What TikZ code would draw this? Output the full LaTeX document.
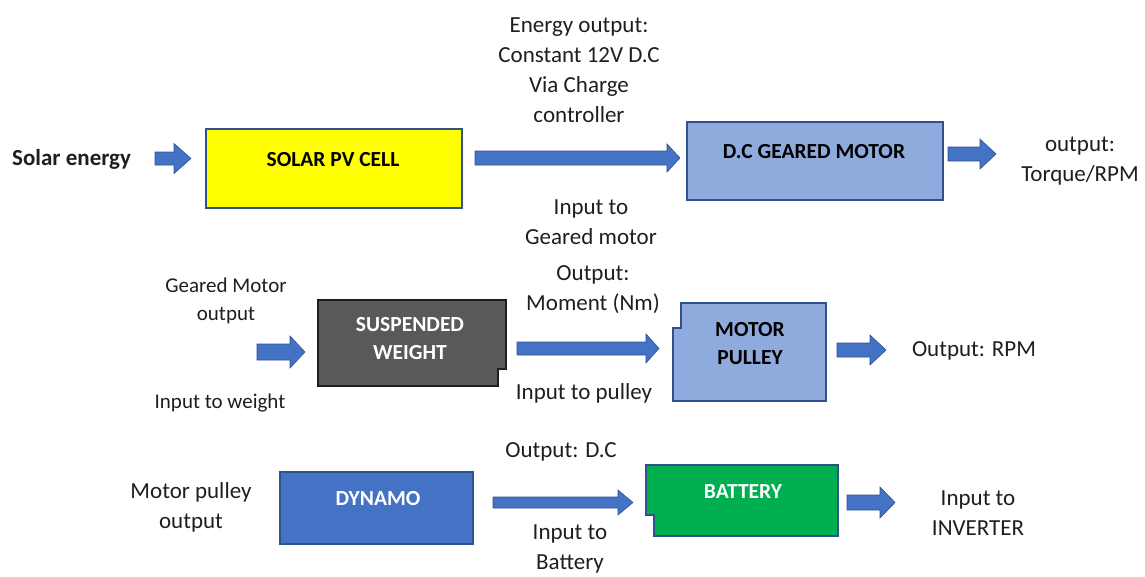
\documentclass[tikz,border=0pt]{standalone}
\usepackage{fontspec}
\setmainfont{Carlito}
\usetikzlibrary{calc}
\definecolor{edgeblue}{HTML}{2F528F}
\definecolor{arrowblue}{HTML}{4472C4}
\definecolor{solaryellow}{HTML}{FFFF00}
\definecolor{lightblue}{HTML}{8FAADC}
\definecolor{weightgray}{HTML}{595959}
\definecolor{batgreen}{HTML}{00B050}
\definecolor{txtcol}{HTML}{1E1E1E}
\newcommand\barrow[5]{%
  \draw[blockarrow] ($(#1)+(0,-#3)$) -- ($(#2)+(-#5,-#3)$) -- ($(#2)+(-#5,-#4)$) -- (#2)
    -- ($(#2)+(-#5,#4)$) -- ($(#2)+(-#5,#3)$) -- ($(#1)+(0,#3)$) -- cycle;}
\begin{document}
\begin{tikzpicture}[x=1pt,y=-1pt,
  txt/.style={inner sep=0pt, align=center, text=txtcol, font=\fontsize{23}{30}\selectfont},
  smalltxt/.style={inner sep=0pt, align=center, text=txtcol, font=\fontsize{21}{28}\selectfont},
  lbl/.style={inner sep=0pt, align=center, font=\fontsize{21.5}{28}\selectfont\bfseries},
  boxline/.style={line width=1.1pt},
  blockarrow/.style={fill=arrowblue, draw=edgeblue, line width=0.6pt}]
\useasboundingbox (0,0) rectangle (1145,576);

% ---------- top row ----------
\node[inner sep=0pt, anchor=west, text=txtcol, font=\fontsize{23}{28}\selectfont\bfseries] (solarin) at (12,159) {Solar energy};
\draw[boxline, fill=solaryellow, draw=edgeblue] (206,129) rectangle (462,208);
\node[lbl] (solar) at (333,160) {SOLAR PV CELL};
\draw[boxline, fill=lightblue, draw=edgeblue] (687,122) rectangle (943,200);
\node[lbl] (motor) at (814,152) {D.C GEARED MOTOR};
\node[txt] (energyout) at (579,70) {Energy output:\\Constant 12V D.C\\Via Charge\\controller};
\node[txt] (inmotor) at (591,222) {Input to\\Geared motor};
\node[txt] (torque) at (1080,161) {output:\\Torque/RPM};

\coordinate (a1s) at (155,158.5); \coordinate (a1e) at (191,158.5);
\coordinate (a2s) at (475,158);   \coordinate (a2e) at (680,158);
\coordinate (a3s) at (948,154);   \coordinate (a3e) at (996,154);
\barrow{a1s}{a1e}{6.5}{15}{17}
\barrow{a2s}{a2e}{7}{14}{13}
\barrow{a3s}{a3e}{7}{15}{16}

% ---------- middle row ----------
\node[smalltxt] (gmout) at (226,301) {Geared Motor\\output};
\node[smalltxt] (inweight) at (220,403) {Input to weight};
\draw[boxline, fill=weightgray, draw=txtcol] (318,300) -- (506,300) -- (506,369) -- (498,369) -- (498,386) -- (318,386) -- cycle;
\node[lbl, text=white] (weight) at (410,339) {SUSPENDED\\WEIGHT};
\node[txt] (moment) at (593,290) {Output:\\Moment (Nm)};
\node[txt] (inpulley) at (584,393) {Input to pulley};
\draw[boxline, fill=lightblue, draw=edgeblue] (681,303) -- (826,303) -- (826,401) -- (673,401) -- (673,328) -- (681,328) -- cycle;
\node[lbl] (pulley) at (750,344) {MOTOR\\PULLEY};
\node[txt] (rpm) at (974,351) {Output: RPM};

\coordinate (b1s) at (257,352);   \coordinate (b1e) at (305,352);
\coordinate (b2s) at (517,348.5); \coordinate (b2e) at (659,348.5);
\coordinate (b3s) at (837,350);   \coordinate (b3e) at (886,350);
\barrow{b1s}{b1e}{8}{16}{15}
\barrow{b2s}{b2e}{6.5}{14.5}{13}
\barrow{b3s}{b3e}{7}{15}{16}

% ---------- bottom row ----------
\node[txt] (mpout) at (191,507) {Motor pulley\\output};
\draw[boxline, fill=arrowblue, draw=edgeblue] (280,472) rectangle (473,544);
\node[lbl, text=white] (dynamo) at (378,499) {DYNAMO};
\node[txt] (dcout) at (561,452) {Output: D.C};
\node[txt] (inbat) at (570,549) {Input to\\Battery};
\draw[boxline, fill=batgreen, draw=edgeblue] (646,465) -- (838,465) -- (838,536) -- (654,536) -- (654,515) -- (646,515) -- cycle;
\node[lbl, text=white] (battery) at (743,492) {BATTERY};
\node[txt] (inverter) at (978,513) {Input to\\INVERTER};

\coordinate (c1s) at (493,502.5); \coordinate (c1e) at (633,502.5);
\coordinate (c2s) at (847,502.5); \coordinate (c2e) at (895,502.5);
\barrow{c1s}{c1e}{5.5}{12.5}{15}
\barrow{c2s}{c2e}{7.5}{15.5}{15}
\end{tikzpicture}
\end{document}
